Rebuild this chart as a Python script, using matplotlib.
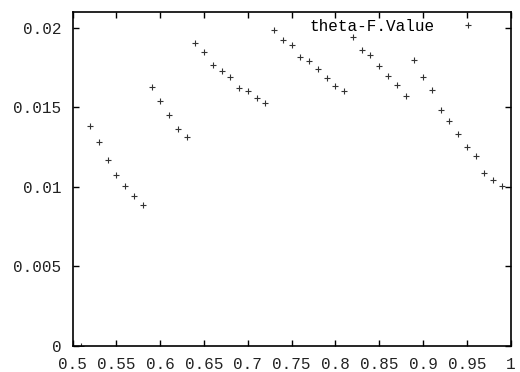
import matplotlib
matplotlib.use("Agg")
import matplotlib.pyplot as plt
from matplotlib.ticker import FixedLocator

# --- data ---
theta = [0.51,
         0.52, 0.53, 0.54, 0.55, 0.56, 0.57, 0.58,
         0.59, 0.60, 0.61, 0.62, 0.63,
         0.64, 0.65, 0.66, 0.67, 0.68, 0.69, 0.70, 0.71, 0.72,
         0.73, 0.74, 0.75, 0.76, 0.77, 0.78, 0.79, 0.80, 0.81,
         0.82, 0.83, 0.84, 0.85, 0.86, 0.87, 0.88,
         0.89, 0.90, 0.91, 0.92, 0.93, 0.94, 0.95, 0.96, 0.97, 0.98, 0.99]
f_value = [0.0,
           0.01380, 0.01282, 0.01168, 0.01076, 0.01006, 0.00941, 0.00887,
           0.01628, 0.01536, 0.01452, 0.01364, 0.01313,
           0.01903, 0.01849, 0.01767, 0.01727, 0.01687, 0.01622, 0.01599, 0.01556, 0.01525,
           0.01985, 0.01922, 0.01888, 0.01817, 0.01788, 0.01737, 0.01681, 0.01636, 0.01603,
           0.01939, 0.01861, 0.01825, 0.01758, 0.01698, 0.01638, 0.01569,
           0.01794, 0.01687, 0.01605, 0.01485, 0.01416, 0.01332, 0.01252, 0.01195, 0.01088, 0.01042, 0.01002]
series_label = "theta-F.Value"

x_ticks = [0.5, 0.55, 0.6, 0.65, 0.7, 0.75, 0.8, 0.85, 0.9, 0.95, 1.0]
x_tick_labels = ["0.5", "0.55", "0.6", "0.65", "0.7", "0.75", "0.8", "0.85", "0.9", "0.95", "1"]
y_ticks = [0.0, 0.005, 0.01, 0.015, 0.02]
y_tick_labels = ["0", "0.005", "0.01", "0.015", "0.02"]
# -----------------------------------

FONT = ["Liberation Mono", "DejaVu Sans Mono"]
FS = 11.5

fig = plt.figure(figsize=(5.2, 3.72), dpi=100)
ax = fig.add_axes([0.1398, 0.0707, 0.8422, 0.8978])

ax.plot(theta, f_value, linestyle="none", marker="+", markersize=4.5,
        markeredgewidth=0.8, color="#333333", label=series_label)

ax.set_xlim(0.5, 1.0)
ax.set_ylim(0.0, 0.021)
ax.xaxis.set_major_locator(FixedLocator(x_ticks))
ax.yaxis.set_major_locator(FixedLocator(y_ticks))
ax.set_xticklabels(x_tick_labels, family=FONT, fontsize=FS)
ax.set_yticklabels(y_tick_labels, family=FONT, fontsize=FS)
ax.tick_params(direction="in", length=4, width=1, top=True, right=True,
               colors="black", labelcolor="#222222")
ax.tick_params(axis="y", pad=8)
ax.tick_params(axis="x", pad=8)
for sp in ax.spines.values():
    sp.set_linewidth(1.2)

leg = ax.legend(loc="upper right", bbox_to_anchor=(0.948, 1.003), frameon=False,
                markerfirst=False, prop={"family": FONT, "size": FS},
                borderaxespad=0.1, handlelength=1.5, handletextpad=1.35)

fig.savefig("out.png", dpi=100)
